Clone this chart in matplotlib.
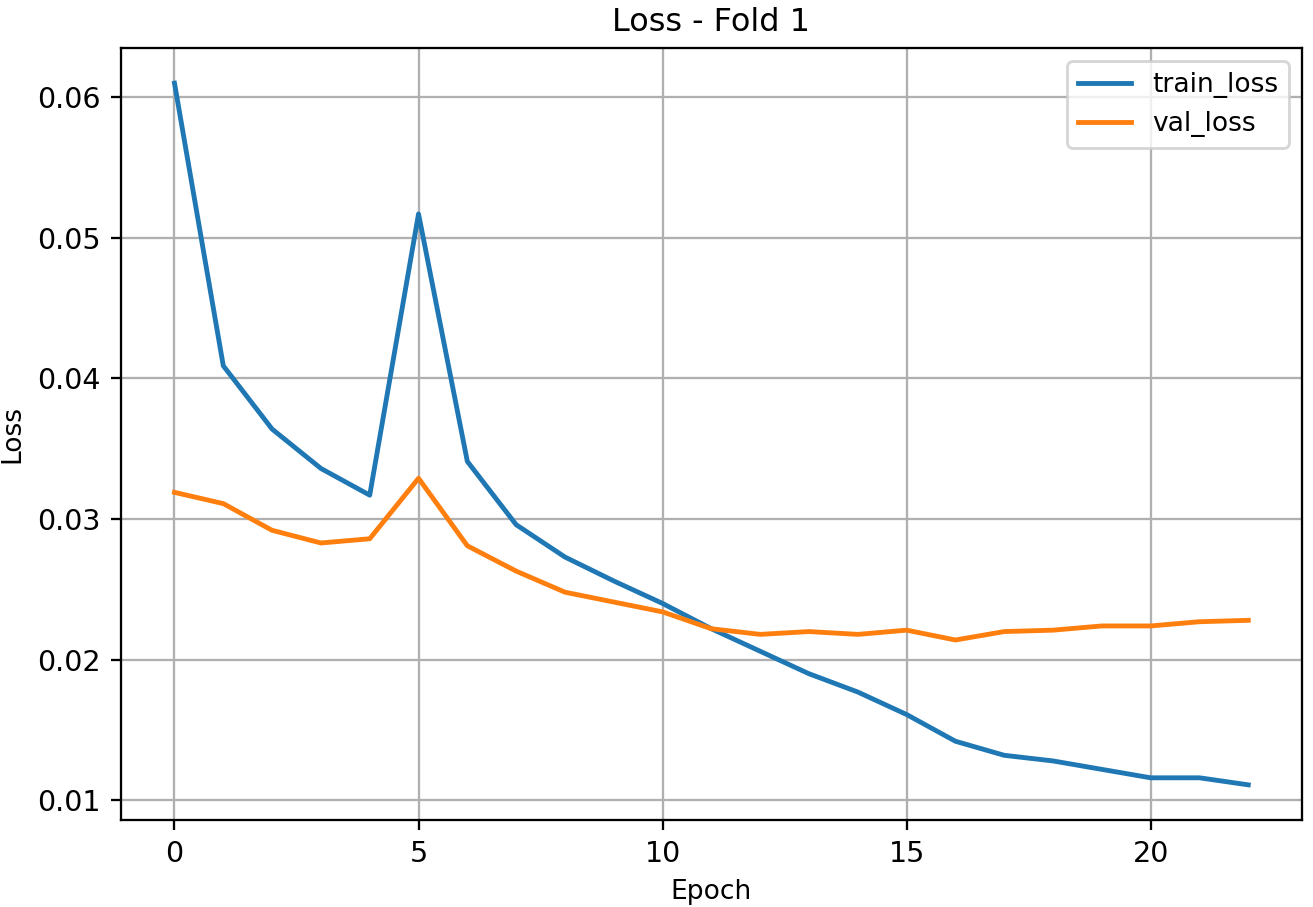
import matplotlib
matplotlib.use("Agg")
import matplotlib.pyplot as plt

# per-epoch losses
epochs = list(range(23))
train_loss = [0.0610, 0.0409, 0.0364, 0.0336, 0.0317, 0.0517, 0.0341, 0.0296,
              0.0273, 0.0256, 0.0240, 0.0222, 0.0206, 0.0190, 0.0177, 0.0161,
              0.0142, 0.0132, 0.0128, 0.0122, 0.0116, 0.0116, 0.0111]
val_loss = [0.0319, 0.0311, 0.0292, 0.0283, 0.0286, 0.0329, 0.0281, 0.0263,
            0.0248, 0.0241, 0.0234, 0.0222, 0.0218, 0.0220, 0.0218, 0.0221,
            0.0214, 0.0220, 0.0221, 0.0224, 0.0224, 0.0227, 0.0228]

fig, ax = plt.subplots(figsize=(1313 / 205, 907 / 205), dpi=205)
fig.subplots_adjust(left=0.092, right=0.9916, top=0.947, bottom=0.096)

ax.plot(epochs, train_loss, lw=1.7, label="train_loss")
ax.plot(epochs, val_loss, lw=1.7, label="val_loss")
ax.set_title("Loss - Fold 1", fontsize=11.2)
ax.set_xlabel("Epoch", fontsize=9.3)
ax.set_ylabel("Loss", fontsize=9.3)
ax.grid(True)
ax.legend(loc="upper right", fontsize=9.3)

fig.savefig("out.png", dpi=205)
